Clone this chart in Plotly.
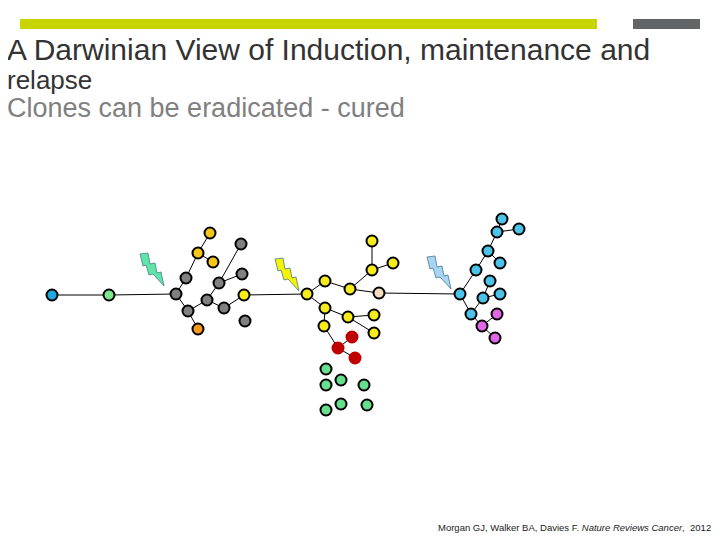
import plotly.graph_objects as go

# clone tree nodes (page pixel coordinates) and their colours
node_x = [52, 109, 176, 186, 198, 210, 213, 188, 198, 207, 219, 241, 242, 224, 244, 245,
          307, 325, 350, 372, 372, 393, 379, 325, 348, 374, 374, 324, 338, 352, 355,
          326, 326, 341, 364, 326, 341, 367,
          460, 476, 488, 497, 502, 519, 500, 490, 483, 500, 471, 482, 497, 495]
node_y = [295, 295, 294, 278, 253, 233, 262, 311, 329, 300, 283, 244, 274, 308, 295, 321,
          294, 281, 289, 270, 241, 263, 293, 308, 317, 315, 333, 326, 348, 337, 358,
          369, 385, 380, 385, 410, 404, 405,
          294, 270, 251, 232, 219, 229, 263, 281, 298, 294, 314, 326, 314, 338]
node_c = (['#1ea7e0', '#7be88e'] + ['#808080', '#808080', '#f5c518', '#f5c518', '#f5c518',
          '#808080', '#f59a1a', '#808080', '#808080', '#808080', '#808080', '#808080',
          '#f5ec1a', '#808080']
          + ['#f5ec1a'] * 6 + ['#f3dcc0'] + ['#f5ec1a'] * 5 + ['#c00000'] * 3
          + ['#66e08c'] * 7 + ['#4cc3e8'] * 11 + ['#e466e8'] * 3)
red_idx = {28, 29, 30}
edges = [(0, 1), (1, 2), (2, 3), (3, 4), (4, 5), (4, 6), (2, 7), (7, 8), (7, 9), (9, 10),
         (10, 11), (10, 12), (9, 13), (13, 14), (14, 16),
         (16, 17), (17, 18), (18, 22), (18, 19), (19, 20), (19, 21),
         (16, 23), (23, 24), (24, 25), (24, 26), (23, 27), (27, 28), (28, 29), (28, 30),
         (22, 38), (38, 39), (39, 40), (40, 41), (41, 42), (41, 43), (40, 44),
         (38, 48), (48, 49), (49, 50), (49, 51), (48, 46), (46, 45), (46, 47)]

# lightning bolts: centre x, y and colour
bolt_x = [152, 287, 439]
bolt_y = [270, 275, 273]
bolt_c = ['#5ee6a8', '#f5f500', '#a8d4f5']
bolt_shape = [(-12, -16), (-4, -17), (-2, -6), (3, -7), (5, 3), (9, 2), (12, 16),
              (1, 4), (-3, 5), (-6, -5), (-9, -4), (-12, -16)]

fig = go.Figure()
ex, ey = [], []
for a, b in edges:
    ex += [node_x[a], node_x[b], None]
    ey += [node_y[a], node_y[b], None]
fig.add_trace(go.Scatter(x=ex, y=ey, mode='lines', line=dict(color='black', width=1),
                         hoverinfo='skip'))
for bx, by, bc in zip(bolt_x, bolt_y, bolt_c):
    fig.add_trace(go.Scatter(x=[bx + p[0] for p in bolt_shape], y=[by + p[1] for p in bolt_shape],
                             mode='lines', fill='toself', fillcolor=bc,
                             line=dict(color='#4a7a8a', width=0.8), hoverinfo='skip'))
fig.add_trace(go.Scatter(
    x=node_x, y=node_y, mode='markers',
    marker=dict(size=11, color=node_c,
                line=dict(color=['#c00000' if i in red_idx else 'black' for i in range(len(node_x))],
                          width=2))))

fig.add_shape(type='line', x0=20, x1=597, y0=24, y1=24, line=dict(color='#c8d400', width=10))
fig.add_shape(type='line', x0=633, x1=700, y0=24, y1=24, line=dict(color='#636466', width=10))
fig.add_annotation(x=8, y=49, xshift=-3, text='A Darwinian View of Induction, maintenance and',
                   showarrow=False, xanchor='left',
                   font=dict(size=30, color='#333333', family='Liberation Sans'))
fig.add_annotation(x=8, y=80, xshift=-3, text='relapse', showarrow=False, xanchor='left',
                   font=dict(size=26, color='#333333', family='Liberation Sans'))
fig.add_annotation(x=8, y=108, xshift=-3, text='Clones can be eradicated - cured', showarrow=False,
                   xanchor='left', font=dict(size=27, color='#808080', family='Liberation Sans'))
fig.add_annotation(x=713, y=527,
                   text='Morgan GJ, Walker BA, Davies F. <i>Nature Reviews Cancer</i>,  2012',
                   showarrow=False, xanchor='right',
                   font=dict(size=9.5, color='#222222', family='Liberation Sans'))

# the page adds an 8px body margin, so the axes are offset to keep page coordinates
fig.update_layout(width=720, height=540, margin=dict(l=0, r=0, t=0, b=0), showlegend=False,
                  plot_bgcolor='white', paper_bgcolor='white',
                  xaxis=dict(range=[8, 728], visible=False),
                  yaxis=dict(range=[548, 8], visible=False))
fig.write_html('out.html')
